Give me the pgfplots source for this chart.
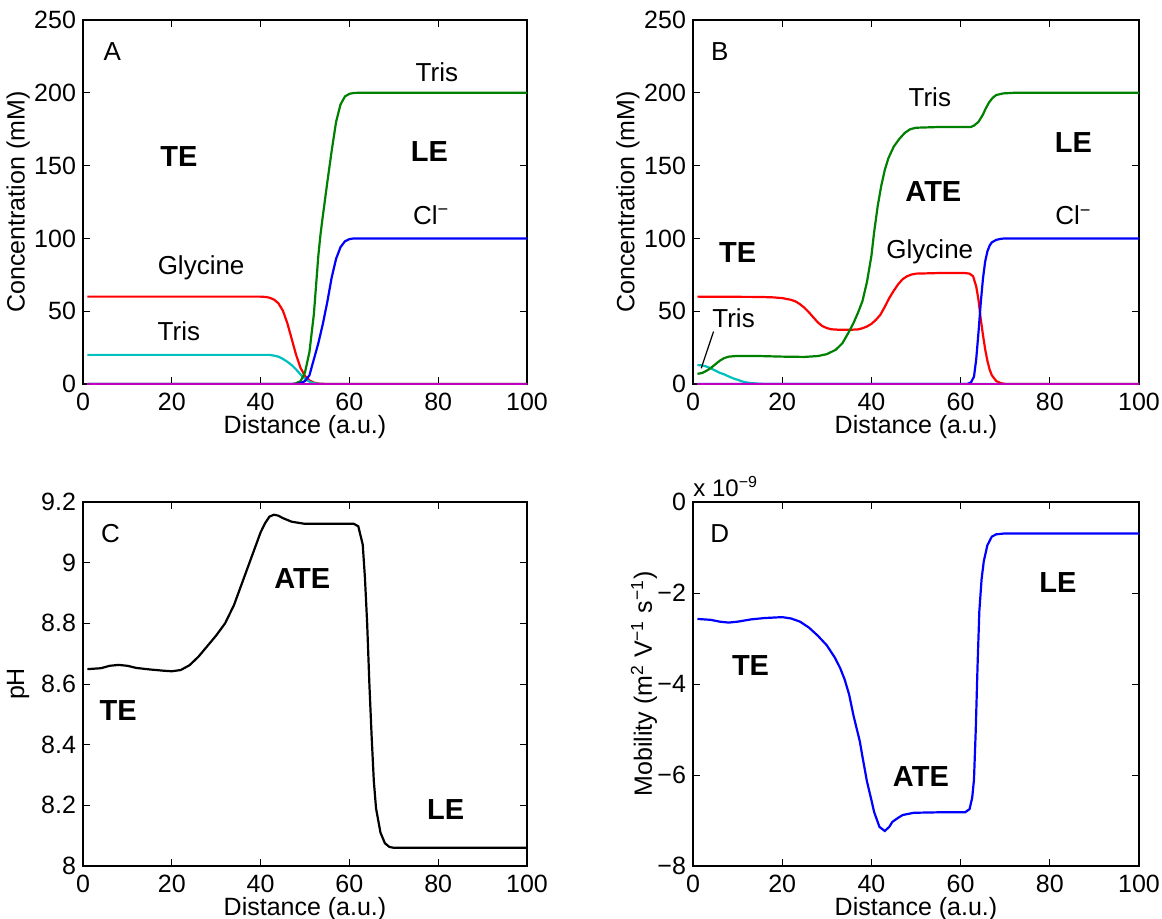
\documentclass[border=0pt]{standalone}
\usepackage{fontspec}
\setmainfont{Liberation Sans}
\usepackage{pgfplots}
\pgfplotsset{compat=1.18}
\definecolor{mgreen}{rgb}{0,0.5,0}
\definecolor{mcyan}{rgb}{0,0.75,0.75}
\definecolor{mmag}{rgb}{0.75,0,0.75}

\pgfplotsset{
  panel/.style={
    scale only axis, width=222pt, height=182pt,
    xmin=0, xmax=100, xtick={0,20,40,60,80,100},
    tick align=inside, major tick length=3.5pt,
    every tick/.style={black, line width=0.5pt},
    axis line style={line width=0.6pt},
    tick label style={font=\fontsize{12.5}{14}\selectfont},
    xticklabel style={yshift=-1pt},
    /pgf/number format/assume math mode=true,
    every axis x label/.style={at={(axis description cs:0.5,-0.117)}, anchor=center, font=\fontsize{12.5}{14}\selectfont},
    every axis y label/.style={at={(axis description cs:-0.146,0.5)}, rotate=90, anchor=center, font=\fontsize{12.5}{14}\selectfont},
    xlabel={Distance (a.u.)},
    clip mode=individual,
    every axis plot/.append style={line width=1.1pt},
  },
}
\tikzset{
  lbl/.style={font=\fontsize{13}{15}\selectfont, inner sep=0pt},
  reg/.style={font=\bfseries\fontsize{14.5}{16}\selectfont, inner sep=0pt},
}

\begin{document}
\begin{tikzpicture}
\useasboundingbox (0,0) rectangle (581pt,459pt);

% ---- A: concentrations, no ATE
\begin{axis}[panel, at={(41.5pt,267pt)}, anchor=south west,
  ymin=0, ymax=250, ytick={0,50,100,150,200,250},
  ylabel={Concentration (mM)}]
\addplot[red] coordinates {
  (1,60) (40,60) (41,59.8) (42,59.3) (43,58) (44,55.5) (45,50.5) (46,42)
  (47,31) (48,20) (49,11) (50,5.5) (51,2.5) (52,1) (53,0.3) (55,0) (100,0)};
\addplot[mcyan] coordinates {
  (1,20) (42,20) (43,19.5) (44,18.8) (45,17.3) (46,15.3) (47,13) (48,10)
  (49,6.5) (50,3.5) (51,1.6) (52,0.6) (53,0.15) (55,0) (100,0)};
\addplot[mgreen] coordinates {
  (1,0) (47,0) (48,0.5) (49,2) (50,8) (51,22) (52,48) (53,88) (53.5,103)
  (54,115) (55,138) (56,160) (57,180) (58,192) (59,197.5) (60,199.3)
  (61,199.9) (62,200) (100,200)};
\addplot[blue] coordinates {
  (1,0) (48,0) (49,0.5) (50,2) (51,6) (52,17) (53,28) (54,41) (55,56)
  (56,73) (57,86) (58,94) (59,98) (60,99.5) (61,100) (100,100)};
\addplot[mmag] coordinates {(1,0) (100,0)};
\node[lbl] at (axis cs:6.6,228) {A};
\node[reg] at (axis cs:21.6,156) {TE};
\node[reg] at (axis cs:78,160) {LE};
\node[lbl] at (axis cs:79.7,214) {Tris};
\node[lbl] at (axis cs:78.4,116) {Cl\textsuperscript{−}};
\node[lbl] at (axis cs:26.6,80) {Glycine};
\node[lbl] at (axis cs:21.6,36) {Tris};
\end{axis}

% ---- B: concentrations with ATE
\begin{axis}[panel, at={(346.5pt,267pt)}, anchor=south west, width=223pt,
  ymin=0, ymax=250, ytick={0,50,100,150,200,250},
  ylabel={Concentration (mM)}]
\addplot[red] coordinates {
  (1,60) (15,59.8) (18,59.5) (20,59) (22,57.8) (23,56.7) (24,54.8) (25,52.3)
  (26,49.2) (27,45.7) (28,42.3) (29,39.8) (30,38.4) (31,37.6) (33,37.2)
  (35,37.2) (37,37.5) (38,38.3) (39,39.5) (40,41.3) (41,44) (42,47.5)
  (43,53) (44,59) (45,64) (46,68.5) (47,72) (48,74) (49,75.2) (50,75.8)
  (55,76.2) (61,76.2) (62,75.8) (62.8,74) (63.5,67) (64,58) (64.5,45)
  (65,34) (65.5,24) (66,16) (66.5,10) (67,6) (68,2) (69,0.6) (70,0.1)
  (72,0) (100,0)};
\addplot[mcyan] coordinates {
  (1,13) (2,12.8) (3,12) (4,10.8) (5,9.2) (6,7.7) (7,6.6) (8,5.2) (9,3.9)
  (10,2.9) (11,1.8) (12,1.1) (13,0.6) (15,0.15) (17,0) (100,0)};
\addplot[mgreen] coordinates {
  (1,7) (2,7.5) (3,9) (4,11) (5,13.5) (6,16) (7,17.8) (8,18.8) (10,19.3)
  (15,19.2) (20,18.8) (25,18.6) (28,19.2) (30,20.5) (32,23.5) (33.5,28)
  (35,36) (36,42) (37,49) (38,57) (39,70) (40,88) (40.6,104) (41.4,122)
  (42.2,136) (43,147) (43.8,155) (45,163) (46.3,168.5) (47.5,172.5)
  (48.7,175) (50,176) (55,176.5) (62.3,176.5) (63,177.5) (64,180) (65,185)
  (65.6,189) (66.4,193.5) (67.2,196.6) (68,198.5) (69.6,199.6) (72,200)
  (100,200)};
\addplot[blue] coordinates {
  (1,0) (61.5,0) (62.3,1) (63,5) (63.5,17) (64,35) (64.5,55) (65,72)
  (65.5,84) (66,91) (66.5,95) (67,97.3) (68,99) (69,99.7) (70,100) (100,100)};
\addplot[mmag] coordinates {(1,0) (100,0)};
\draw[line width=0.6pt] (axis cs:1.85,10.8) -- (axis cs:4.6,36);
\node[lbl] at (axis cs:6,228) {B};
\node[lbl] at (axis cs:53.1,197) {Tris};
\node[reg] at (axis cs:85.3,166) {LE};
\node[reg] at (axis cs:53.9,132) {ATE};
\node[lbl] at (axis cs:85.3,115.6) {Cl\textsuperscript{−}};
\node[reg] at (axis cs:10,90) {TE};
\node[lbl] at (axis cs:53.1,91) {Glycine};
\node[lbl] at (axis cs:9.1,45) {Tris};
\end{axis}

% ---- C: pH
\begin{axis}[panel, at={(41.5pt,26pt)}, anchor=south west,
  ymin=8, ymax=9.2, ytick={8,8.2,8.4,8.6,8.8,9,9.2},
  ylabel={pH}]
\addplot[black] coordinates {
  (1,8.649) (4,8.652) (6,8.66) (8,8.663) (10,8.66) (12,8.653) (15,8.648)
  (18,8.644) (20,8.642) (22,8.646) (24,8.662) (26,8.69) (28,8.725)
  (30,8.76) (32,8.80) (34,8.86) (36,8.94) (38,9.02) (40,9.10) (41,9.13)
  (42,9.152) (43,9.158) (44,9.155) (45,9.147) (47,9.135) (50,9.128)
  (55,9.128) (61,9.128) (62,9.12) (63,9.06) (63.5,8.95) (64,8.80)
  (64.5,8.6) (65,8.43) (65.5,8.28) (66,8.19) (67,8.11) (68,8.075)
  (69,8.063) (70,8.06) (100,8.06)};
\node[lbl] at (axis cs:6.2,9.096) {C};
\node[reg] at (axis cs:49.4,8.947) {ATE};
\node[reg] at (axis cs:7.9,8.513) {TE};
\node[reg] at (axis cs:81.7,8.185) {LE};
\end{axis}

% ---- D: mobility (units of 1e-9)
\begin{axis}[panel, at={(346.5pt,26pt)}, anchor=south west, width=223pt,
  ymin=-8, ymax=0, ytick={-8,-6,-4,-2,0},
  yticklabels={−8,−6,−4,−2,0},
  every axis y label/.style={at={(axis description cs:-0.11,0.5)}, rotate=90, anchor=center, font=\fontsize{12.5}{14}\selectfont},
  ylabel={Mobility (m\textsuperscript{2} V\textsuperscript{−1} s\textsuperscript{−1})}]
\addplot[blue] coordinates {
  (1,-2.57) (4,-2.59) (6,-2.63) (8,-2.65) (10,-2.63) (13,-2.58) (16,-2.55)
  (20,-2.53) (22,-2.56) (24,-2.63) (26,-2.76) (28,-2.94) (30,-3.15)
  (31.8,-3.42) (33,-3.65) (34,-3.9) (35,-4.23) (36,-4.7) (37.4,-5.26)
  (38,-5.6) (39,-6.14) (40,-6.55) (40.6,-6.81) (41.8,-7.14) (43,-7.23)
  (44,-7.14) (44.7,-7.03) (46,-6.94) (47,-6.88) (49.5,-6.83) (55,-6.82)
  (61,-6.82) (62,-6.75) (62.6,-6.5) (63,-6.1) (63.4,-5.0) (63.8,-3.6)
  (64.2,-2.4) (64.7,-1.7) (65.2,-1.3) (66,-0.95) (67,-0.76) (68,-0.71)
  (70,-0.69) (100,-0.69)};
\node[lbl] at (axis cs:6,-0.69) {D};
\node[reg] at (axis cs:81.8,-1.76) {LE};
\node[reg] at (axis cs:12.9,-3.6) {TE};
\node[reg] at (axis cs:51.1,-6.03) {ATE};
\node[anchor=base west, inner sep=0pt, font=\fontsize{12}{14}\selectfont]
  at (rel axis cs:0,1) [yshift=3pt] {x 10\textsuperscript{−9}};
\end{axis}
\end{tikzpicture}
\end{document}
